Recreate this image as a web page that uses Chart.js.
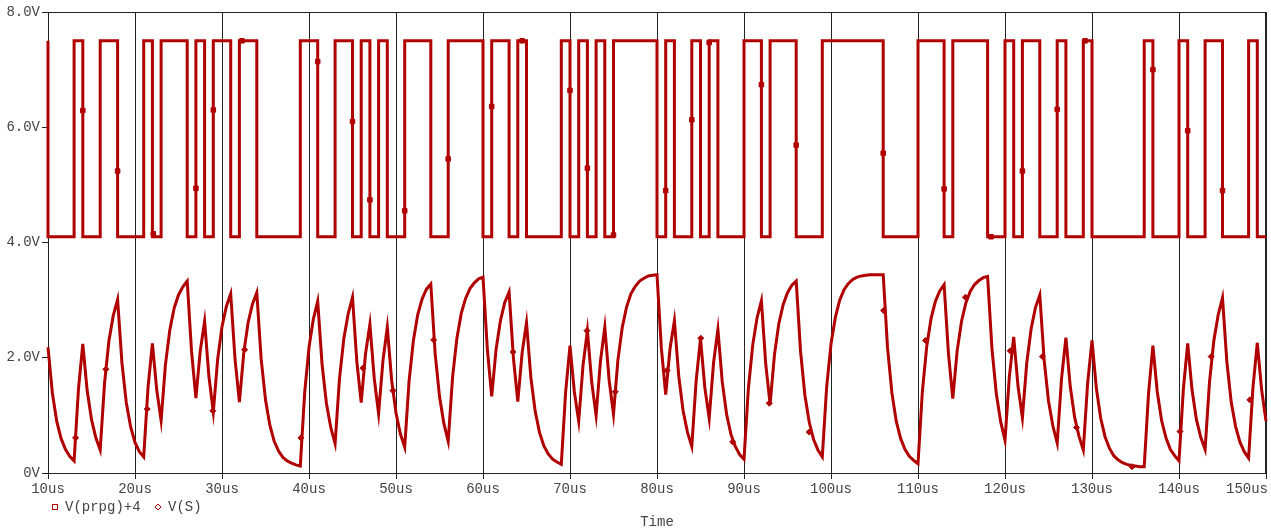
<!DOCTYPE html>
<html>
<head>
<meta charset="utf-8">
<script src="https://cdn.jsdelivr.net/npm/chart.js@4.4.1/dist/chart.umd.min.js"></script>
<style>
  html, body { margin: 0; padding: 0; background: #fff; }
  #wrap { width: 1271px; height: 529px; }
</style>
</head>
<body>
<div id="wrap"><canvas id="wave"></canvas></div>
<script>
// V(prpg): edge times (us) and the bit held from each edge to the next
const prpgEdges = [10, 13, 14, 16, 18, 21, 22, 23, 26, 27, 28, 29, 31, 32, 34, 39, 41, 43, 45, 46,
  47, 48, 49, 51, 54, 56, 60, 61, 63, 64, 65, 69, 70, 71, 72, 73, 74, 75, 80, 81,
  82, 84, 85, 86, 87, 90, 92, 93, 96, 99, 106, 110, 113, 114, 118, 120, 121, 122, 124, 126,
  127, 129, 130, 136, 137, 140, 141, 143, 145, 148, 149];
const prpgBits = [0, 1, 0, 1, 0, 1, 0, 1, 0, 1, 0, 1, 0, 1, 0, 1, 0, 1, 0, 1,
  0, 1, 0, 1, 0, 1, 0, 1, 0, 1, 0, 1, 0, 1, 0, 1, 0, 1, 0, 1,
  0, 1, 0, 1, 0, 1, 0, 1, 0, 1, 0, 1, 0, 1, 0, 1, 0, 1, 0, 1,
  0, 1, 0, 1, 0, 1, 0, 1, 0, 1, 0];
const prpgEnd = 150;
const prpgLow = 0.1;
const prpgHigh = 3.5;
const prpgOffset = 4;
// square markers on V(prpg)+4  [us, V]
const prpgMarks = [[14, 6.29], [18, 5.24], [22.1, 4.15], [27, 4.94], [29, 6.30], [32.3, 7.5], [41, 7.14],
  [45, 6.10], [47, 4.74], [51, 4.55], [56, 5.45], [61, 6.36], [64.5, 7.5], [70, 6.64], [72, 5.29],
  [75, 4.13], [81, 4.90], [84, 6.13], [86, 7.47], [92, 6.74], [96, 5.69], [106, 5.55], [113, 4.93],
  [118.4, 4.1], [122, 5.24], [126, 6.31], [129.2, 7.5], [137, 7.0], [141, 5.94], [145, 4.90]];

// V(S): one reading every 0.5us from 10us to 150us
const sStart = 10;
const sStep = 0.5;
const sValues = [
  2.18, 1.39, 0.90, 0.60, 0.41, 0.29, 0.21, 1.45, 2.24, 1.43,
  0.93, 0.61, 0.40, 1.56, 2.29, 2.73, 3.01, 1.91, 1.22, 0.80,
  0.53, 0.37, 0.28, 1.49, 2.25, 1.44, 0.91, 1.88, 2.48, 2.86,
  3.09, 3.23, 3.33, 2.11, 1.30, 2.12, 2.63, 1.67, 1.06, 1.97,
  2.54, 2.89, 3.11, 1.97, 1.23, 2.08, 2.61, 2.93, 3.13, 1.98,
  1.27, 0.83, 0.55, 0.38, 0.27, 0.21, 0.17, 0.14, 0.12, 1.39,
  2.18, 2.67, 2.98, 1.89, 1.21, 0.79, 0.51, 1.63, 2.33, 2.76,
  3.05, 1.93, 1.22, 2.07, 2.58, 1.64, 1.03, 1.95, 2.53, 1.61,
  1.04, 0.68, 0.45, 1.59, 2.30, 2.75, 3.02, 3.19, 3.28, 2.07,
  1.33, 0.86, 0.55, 1.66, 2.34, 2.77, 3.03, 3.20, 3.30, 3.37,
  3.40, 2.15, 1.33, 2.14, 2.64, 2.96, 3.14, 1.99, 1.24, 2.09,
  2.61, 1.66, 1.07, 0.70, 0.47, 0.33, 0.24, 0.19, 0.15, 1.41,
  2.21, 1.41, 0.90, 1.87, 2.47, 1.57, 1.00, 1.94, 2.53, 1.61,
  1.02, 1.95, 2.52, 2.88, 3.11, 3.24, 3.33, 3.38, 3.42, 3.43,
  3.44, 2.17, 1.36, 2.16, 2.64, 1.68, 1.08, 0.71, 0.46, 1.60,
  2.33, 1.48, 0.95, 1.91, 2.49, 1.58, 1.02, 0.67, 0.46, 0.32,
  0.24, 1.46, 2.22, 2.69, 2.99, 1.89, 1.19, 2.05, 2.59, 2.92,
  3.13, 3.26, 3.33, 2.11, 1.35, 0.88, 0.58, 0.40, 0.28, 1.49,
  2.24, 2.70, 3.00, 3.18, 3.29, 3.36, 3.40, 3.42, 3.43, 3.44,
  3.44, 3.44, 3.44, 2.17, 1.39, 0.90, 0.60, 0.41, 0.29, 0.22,
  0.16, 1.41, 2.19, 2.68, 2.98, 3.16, 3.27, 2.07, 1.29, 2.12,
  2.63, 2.95, 3.15, 3.27, 3.34, 3.39, 3.41, 2.16, 1.38, 0.89,
  0.57, 1.67, 2.36, 1.50, 0.96, 1.91, 2.50, 2.87, 3.09, 1.96,
  1.25, 0.82, 0.52, 1.64, 2.35, 1.50, 0.97, 0.64, 0.40, 1.56,
  2.30, 1.47, 0.95, 0.63, 0.43, 0.30, 0.23, 0.18, 0.15, 0.13,
  0.12, 0.11, 0.11, 1.38, 2.21, 1.41, 0.91, 0.61, 0.41, 0.30,
  0.21, 1.45, 2.25, 1.44, 0.93, 0.62, 0.41, 1.57, 2.29, 2.74,
  3.04, 1.93, 1.23, 0.81, 0.54, 0.37, 0.26, 1.48, 2.26, 1.44,
  0.90];
// diamond markers on V(S)  [us, V]
const sMarks = [[13.17, 0.61], [16.65, 1.80], [21.4, 1.11], [28.95, 1.08], [32.6, 2.14], [39.07, 0.61],
  [46.2, 1.82], [49.65, 1.43], [54.33, 2.31], [63.45, 2.10], [71.95, 2.47], [75.2, 1.41], [81.15, 1.78],
  [85.03, 2.34], [88.7, 0.54], [92.9, 1.21], [97.5, 0.71], [106.05, 2.82], [110.87, 2.30], [115.45, 3.05],
  [120.6, 2.12], [124.3, 2.02], [128.22, 0.79], [134.6, 0.11], [140.12, 0.72], [143.7, 2.02], [148.15, 1.27]];

const seriesNames = ['V(prpg)+4', 'V(S)'];
const traceColor = '#b00000';
const textColor = '#444';
const monoFont = '14px "Liberation Mono", "DejaVu Sans Mono", monospace';

// stepped trace: start high just before 10us, then hold each bit until the next edge
const prpgPoints = [{ x: prpgEdges[0], y: prpgHigh + prpgOffset }];
prpgEdges.forEach((t, i) => {
  prpgPoints.push({ x: t, y: (prpgBits[i] ? prpgHigh : prpgLow) + prpgOffset });
});
prpgPoints.push({ x: prpgEnd, y: (prpgBits[prpgBits.length - 1] ? prpgHigh : prpgLow) + prpgOffset });

const sPoints = sValues.map((v, i) => ({ x: sStart + i * sStep, y: v }));

const pspiceText = {
  id: 'pspiceText',
  beforeDatasetsDraw(chart) {
    // plot frame, under the traces
    const { ctx, chartArea } = chart;
    ctx.save();
    ctx.strokeStyle = '#222';
    ctx.lineWidth = 1;
    ctx.strokeRect(chartArea.left + 0.5, chartArea.top + 0.5, chartArea.right - chartArea.left - 1, chartArea.bottom - chartArea.top);
    ctx.restore();
  },
  afterDraw(chart) {
    const { ctx, chartArea, scales } = chart;
    ctx.save();
    ctx.font = monoFont;
    ctx.fillStyle = textColor;
    ctx.textBaseline = 'middle';
    // x tick labels, last one kept inside the canvas
    scales.x.ticks.forEach((tk) => {
      const label = tk.value + 'us';
      const w = ctx.measureText(label).width;
      let x = scales.x.getPixelForValue(tk.value) - w / 2;
      x = Math.min(x, chart.width - w - 3);
      ctx.textAlign = 'left';
      ctx.fillText(label, x, chartArea.bottom + 16);
    });
    // legend
    const ly = chartArea.bottom + 34;
    ctx.strokeStyle = traceColor;
    ctx.lineWidth = 1;
    ctx.strokeRect(52.5, ly - 2.5, 5, 5);
    ctx.fillText(seriesNames[0], 65, ly);
    ctx.beginPath();
    ctx.moveTo(158, ly - 3);
    ctx.lineTo(161, ly);
    ctx.lineTo(158, ly + 3);
    ctx.lineTo(155, ly);
    ctx.closePath();
    ctx.stroke();
    ctx.fillText(seriesNames[1], 168, ly);
    // axis title
    ctx.textAlign = 'center';
    ctx.fillText('Time', (chartArea.left + chartArea.right) / 2, chartArea.bottom + 49);
    ctx.restore();
  },
};

new Chart(document.getElementById('wave'), {
  type: 'line',
  data: {
    datasets: [
      {
        label: 'prpg marks',
        data: prpgMarks.map(([x, y]) => ({ x, y })),
        showLine: false,
        pointStyle: 'rect',
        pointRadius: 3.2,
        pointBackgroundColor: traceColor,
        pointBorderColor: traceColor,
        pointBorderWidth: 1,
      },
      {
        label: 's marks',
        data: sMarks.map(([x, y]) => ({ x, y })),
        showLine: false,
        pointStyle: 'rectRot',
        pointRadius: 3,
        pointBackgroundColor: traceColor,
        pointBorderColor: traceColor,
        pointBorderWidth: 1,
      },
      {
        label: seriesNames[0],
        data: prpgPoints,
        stepped: 'before',
        clip: 3,
        borderColor: traceColor,
        borderWidth: 3,
        pointRadius: 0,
        fill: false,
      },
      {
        label: seriesNames[1],
        data: sPoints,
        clip: 3,
        borderColor: traceColor,
        borderWidth: 3,
        pointRadius: 0,
        tension: 0,
        fill: false,
      },
    ],
  },
  options: {
    responsive: true,
    maintainAspectRatio: false,
    animation: false,
    layout: { padding: { top: 12, right: 3, left: 0, bottom: 0 } },
    plugins: { legend: { display: false }, tooltip: { enabled: false } },
    scales: {
      x: {
        type: 'linear',
        min: 10,
        max: 150,
        afterFit(scale) { scale.height = 56; },
        ticks: { stepSize: 10, display: false },
        grid: { color: '#222', lineWidth: 1, drawTicks: true, tickLength: 6, tickColor: '#222' },
        border: { color: '#222', width: 1 },
      },
      y: {
        min: 0,
        max: 8,
        afterFit(scale) { scale.width = 48; },
        ticks: {
          stepSize: 2,
          padding: 2,
          color: textColor,
          font: { family: '"Liberation Mono", "DejaVu Sans Mono", monospace', size: 14 },
          callback: (v) => (v === 0 ? '0V' : v.toFixed(1) + 'V'),
        },
        grid: { drawOnChartArea: false, drawTicks: true, tickLength: 6, tickColor: '#222' },
        border: { color: '#222', width: 1 },
      },
    },
  },
  plugins: [pspiceText],
});
</script>
</body>
</html>
